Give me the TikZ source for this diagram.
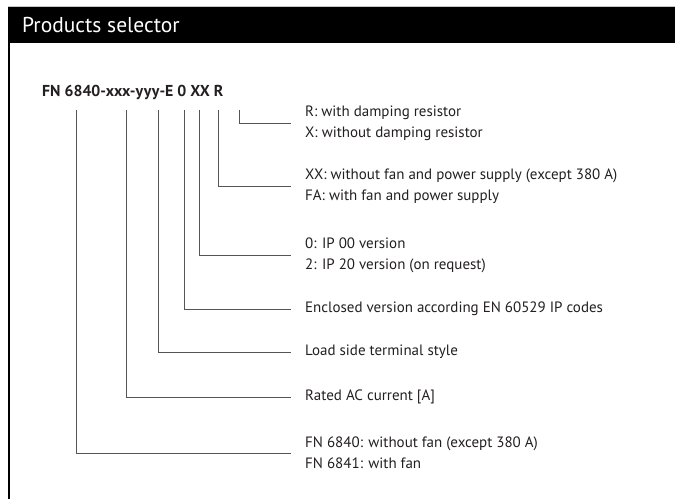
\documentclass[tikz,border=0pt]{standalone}
\usepackage{fontspec}
\setmainfont{PT Sans}
\usepackage{tikz}
\usetikzlibrary{positioning}
\definecolor{barblack}{RGB}{0,0,0}
\definecolor{rulegray}{RGB}{200,200,200}
\definecolor{leadgray}{RGB}{85,85,85}
\definecolor{textdark}{RGB}{35,31,32}
\tikzset{
  header/.style={
    anchor=base west,
    inner sep=0pt,
    text=white,
    font=\fontsize{21.5}{24}\selectfont
  },
  code/.style={
    anchor=base west,
    inner sep=0pt,
    text=textdark,
    font=\fontsize{15.8}{21}\selectfont\bfseries
  },
  option/.style={
    anchor=west,
    inner xsep=14pt,
    inner ysep=0pt,
    align=left,
    text=textdark,
    font=\fontsize{15}{21}\selectfont
  },
  lead/.style={draw=leadgray, line width=0.9pt}
}

\begin{document}
\begin{tikzpicture}[x=1pt, y=-1pt]
        \useasboundingbox (0,0) rectangle (675,499);
        % header bar and frame
        \fill[barblack] (8,6) rectangle (675,43);
        \draw[rulegray, line width=0.6pt] (8,6) -- (675,6);
        \draw[barblack, line width=1.6pt] (8.8,43) -- (8.8,499);
        \node[header] (title) at (22,32) {Products selector};
        \node[code] (part) at (42,96.5) {FN 6840-xxx-yyy-E 0 XX R};
        % tops of the leaders
        \coordinate (tFN)  at (76,110);
        \coordinate (tA)   at (126,110);
        \coordinate (tT)   at (158,110);
        \coordinate (tE)   at (184,110);
        \coordinate (tIP)  at (199,110);
        \coordinate (tXX)  at (218,110);
        \coordinate (tR)   at (239,110);
        % options
        \node[option] (oR)  at (291,123) {R: with damping resistor\\X: without damping resistor};
        \node[option] (oXX) at (291,186) {XX: without fan and power supply (except 380 A)\\FA: with fan and power supply};
        \node[option] (oIP) at (291,255) {0: IP 00 version\\2: IP 20 version (on request)};
        \node[option] (oE)  at (291,309) {Enclosed version according EN 60529 IP codes};
        \node[option] (oT)  at (291,352) {Load side terminal style};
        \node[option] (oA)  at (291,397) {Rated AC current [A]};
        \node[option] (oFN) at (291,453) {FN 6840: without fan (except 380 A)\\FN 6841: with fan};
        \draw[lead] (tR) |- (oR.west);
        \draw[lead] (tXX) |- (oXX.west);
        \draw[lead] (tIP) |- (oIP.west);
        \draw[lead] (tE) |- (oE.west);
        \draw[lead] (tT) |- (oT.west);
        \draw[lead] (tA) |- (oA.west);
        \draw[lead] (tFN) |- (oFN.west);
      \end{tikzpicture}
\end{document}
